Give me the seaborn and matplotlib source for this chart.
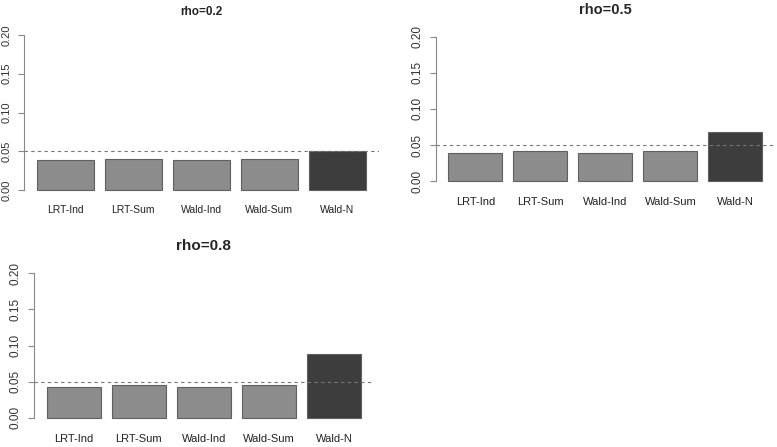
import pandas as pd
import numpy as np
import matplotlib
matplotlib.use('Agg')
import matplotlib.pyplot as plt
import seaborn as sns

# ---- data ----
methods = ['LRT-Ind', 'LRT-Sum', 'Wald-Ind', 'Wald-Sum', 'Wald-N']
rho_labels = ['rho=0.2', 'rho=0.5', 'rho=0.8']
size_rho02 = [0.039, 0.040, 0.039, 0.040, 0.050]
size_rho05 = [0.039, 0.042, 0.039, 0.042, 0.068]
size_rho08 = [0.042, 0.046, 0.042, 0.046, 0.088]
yticks = [0.00, 0.05, 0.10, 0.15, 0.20]
nominal = 0.05

sns.set_theme(style='white')
plt.rcParams['font.family'] = ['Liberation Sans', 'DejaVu Sans']

W, H = 777, 447
fig = plt.figure(figsize=(W / 100, H / 100), dpi=100)

# panel boxes in pixels (left, right, top, bottom), tick font, title font, pads
panels = [
    (size_rho02, rho_labels[0], (23.8, 379, 28.8, 196.2), 7.5, 8.5, 6.0, 10),
    (size_rho05, rho_labels[1], (435.7, 775, 30.9, 186.8), 8.0, 10.5, 7.6, 12),
    (size_rho08, rho_labels[2], (34.1, 373.6, 267.5, 423.5), 8.0, 11, 7.8, 12.5),
]

pal = {m: '#8c8c8c' for m in methods}
pal['Wald-N'] = '#3d3d3d'

for vals, title, (l, r, t, b), fs, tfs, xpad, tpad in panels:
    ax = fig.add_axes([l / W, 1 - b / H, (r - l) / W, (b - t) / H])
    df = pd.DataFrame({'method': methods, 'size': vals})
    sns.barplot(data=df, x='method', y='size', hue='method', palette=pal,
                order=methods, width=0.833, edgecolor='#606060', linewidth=0.8,
                legend=False, ax=ax, saturation=1)
    ax.axhline(nominal, color='#777777', ls=(0, (3, 3)), lw=0.8)
    ax.set_xlim(-0.61, 4.61)
    ax.set_ylim(-0.008, 0.208)
    ax.set_yticks(yticks)
    ax.set_yticklabels([f'{v:.2f}' for v in yticks], rotation=90, va='center',
                       fontsize=fs + 0.5, color='#333333')
    ax.tick_params(axis='y', length=4.5, width=0.8, color='#888888', left=True, pad=4.5)
    ax.tick_params(axis='x', length=0, labelsize=fs, labelcolor='#222222', pad=xpad)
    for s in ['top', 'right', 'bottom']:
        ax.spines[s].set_visible(False)
    ax.spines['left'].set_bounds(0, 0.2)
    ax.spines['left'].set_color('#888888')
    ax.spines['left'].set_linewidth(0.8)
    ax.set_xlabel('')
    ax.set_ylabel('')
    ax.set_title(title, fontsize=tfs, fontweight='bold', pad=tpad)

fig.savefig('out.png', dpi=100)
